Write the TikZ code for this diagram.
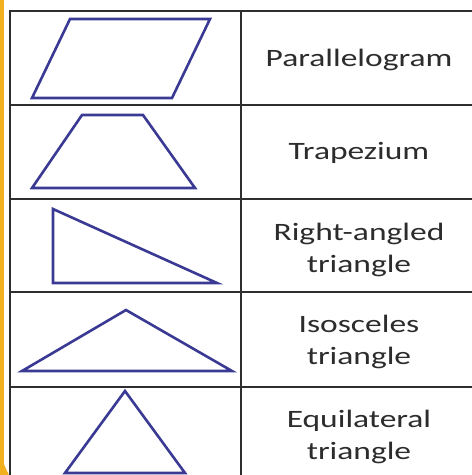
\documentclass[tikz,border=0pt]{standalone}
\usepackage{fontspec}
\setmainfont{Carlito}
\definecolor{shapeblue}{HTML}{3A3A94}
\definecolor{gridgrey}{HTML}{2E2E2E}
\definecolor{textgrey}{HTML}{2C2C2C}
\definecolor{edgeorange}{HTML}{F2B01E}
\tikzset{
  outline/.style={draw=shapeblue, line width=2.6pt, line join=miter},
  gridline/.style={draw=gridgrey, line width=2pt},
  shapename/.style={text=textgrey, align=center, xscale=1.34,
    font=\fontsize{25}{32}\selectfont}
}
\begin{document}
\begin{tikzpicture}[x=1pt, y=-1pt]
  \useasboundingbox (0,0) rectangle (472,475);
  \fill[white] (0,0) rectangle (472,475);

  % -- Orange edge --
  \fill[edgeorange] (0,0) rectangle (4,475);
  \fill[edgeorange] (0,450) .. controls (4,465) .. (9,475) -- (0,475) -- cycle;

  % -- Table grid --
  \draw[gridline] (10,11) -- (472,11);
  \draw[gridline] (10,105) -- (472,105);
  \draw[gridline] (10,199) -- (472,199);
  \draw[gridline] (10,292) -- (472,292);
  \draw[gridline] (10,387) -- (472,387);
  \draw[gridline, line width=2.6pt] (10,10) -- (10,475);
  \draw[gridline] (241,11) -- (241,475);

  % -- Shapes --
  \draw[outline] (70,19) -- (210,19) -- (172,98) -- (32,98) -- cycle;
  \draw[outline] (82,115) -- (143,115) -- (195,188) -- (32,188) -- cycle;
  \draw[outline] (53,209) -- (53,283) -- (217,283) -- cycle;
  \draw[outline] (126,310) -- (232,371) -- (22,371) -- cycle;
  \draw[outline] (125,391) -- (185,473) -- (65,473) -- cycle;

  % -- Names --
  \node[shapename] (parallelogram) at (359,60) {Parallelogram};
  \node[shapename] (trapezium) at (359,153) {Trapezium};
  \node[shapename] (rightangled) at (359,250) {Right-angled\\triangle};
  \node[shapename] (isosceles) at (359,342) {Isosceles\\triangle};
  \node[shapename] (equilateral) at (359,437) {Equilateral\\triangle};

\end{tikzpicture}
\end{document}
